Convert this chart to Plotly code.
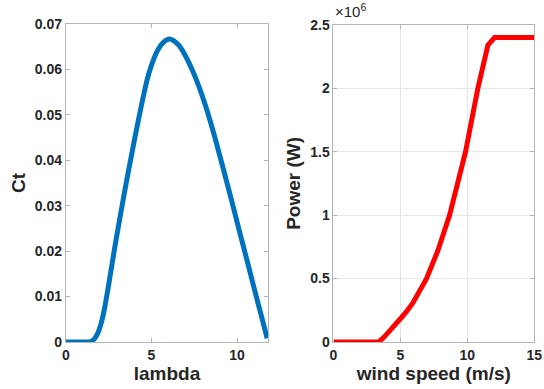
import plotly.graph_objects as go

lam = [0, 0.5, 1.0, 1.4, 1.6, 1.8, 2.0, 2.15, 2.3, 2.59, 2.88, 3.2, 3.65, 4.06, 4.45, 4.84, 5.33, 5.7,
       6.05, 6.56, 6.96, 7.36, 7.76, 8.16, 8.56, 8.96, 9.36, 9.76, 10.16, 10.56, 10.96, 11.36, 11.76]
ct = [0, 0, 0, 0, 0.0004, 0.0014, 0.0033, 0.0054, 0.0082, 0.0146, 0.0213, 0.0282, 0.0375, 0.0455, 0.0527,
      0.0590, 0.0640, 0.0660, 0.0667, 0.0655, 0.0632, 0.0601, 0.0564, 0.0520, 0.0470, 0.0415,
      0.0358, 0.0300, 0.0241, 0.0183, 0.0124, 0.0066, 0.0008]

ws = [0, 1, 2, 3, 3.4, 3.8, 4.2, 4.6, 5.0, 5.45, 5.92, 6.94, 7.8, 8.68, 9.42, 9.87, 10.79, 11.54, 12.04, 13, 14, 15]
pw = [0, 0, 0, 0, 0, 0.04e6, 0.092e6, 0.137e6, 0.183e6, 0.238e6, 0.305e6, 0.497e6, 0.719e6, 1.0e6, 1.294e6,
      1.5e6, 2.0e6, 2.34e6, 2.4e6, 2.4e6, 2.4e6, 2.4e6]

ct_ticks = [0, 0.01, 0.02, 0.03, 0.04, 0.05, 0.06, 0.07]
ct_labels = ["0", "0.01", "0.02", "0.03", "0.04", "0.05", "0.06", "0.07"]
p_ticks = [0, 0.5e6, 1e6, 1.5e6, 2e6, 2.5e6]
p_labels = ["0", "0.5", "1", "1.5", "2", "2.5"]

FONT = "Liberation Sans"
tickfont = dict(family=FONT, size=14, color="#262626")
titlefont = dict(family=FONT, size=19, color="#262626")
axcol = "#b4b4b4"

fig = go.Figure()
fig.add_trace(go.Scatter(x=lam, y=ct, mode="lines", line=dict(color="#0072BD", width=5, shape="spline", smoothing=1),
                         xaxis="x", yaxis="y", showlegend=False))
fig.add_trace(go.Scatter(x=ws, y=pw, mode="lines", line=dict(color="#FF0000", width=5),
                         xaxis="x2", yaxis="y2", showlegend=False))

common = dict(showline=True, linecolor=axcol, linewidth=1, mirror="allticks", ticks="inside",
              ticklen=4, tickcolor=axcol, tickfont=tickfont, zeroline=False, automargin=False)

fig.update_layout(
    width=544, height=389, margin=dict(l=0, r=0, t=0, b=0),
    paper_bgcolor="white", plot_bgcolor="white",
    xaxis=dict(domain=[0.121, 0.493], range=[0, 11.82], tickvals=[0, 5, 10], ticktext=["<b>0</b>", "<b>5</b>", "<b>10</b>"],
               showgrid=False, anchor="y", title=dict(text="<b>lambda</b>", font=titlefont, standoff=2), **common),
    yaxis=dict(domain=[0.121, 0.938], range=[0, 0.07], tickvals=ct_ticks, ticktext=["<b>%s</b>" % t for t in ct_labels],
               showgrid=False, anchor="x", title=dict(text="<b>Ct</b>", font=titlefont, standoff=4), **common),
    xaxis2=dict(domain=[0.613, 0.982], range=[0, 15], tickvals=[0, 5, 10, 15], ticktext=["<b>0</b>", "<b>5</b>", "<b>10</b>", "<b>15</b>"],
                showgrid=True, gridcolor="#e6e6e6", anchor="y2", title=dict(text="<b>wind speed (m/s)</b>", font=titlefont, standoff=2), **common),
    yaxis2=dict(domain=[0.121, 0.936], range=[0, 2.5e6], tickvals=p_ticks, ticktext=["<b>%s</b>" % t for t in p_labels],
                showgrid=True, gridcolor="#e6e6e6", anchor="x2", title=dict(text="<b>Power (W)</b>", font=titlefont, standoff=4), **common),
    annotations=[dict(text="×10<sup>6</sup>", x=0.613, y=0.943, xref="paper", yref="paper", xanchor="left", yanchor="bottom",
                      showarrow=False, font=dict(family=FONT, size=15, color="#262626"))],
)

fig.write_html("out.html")
